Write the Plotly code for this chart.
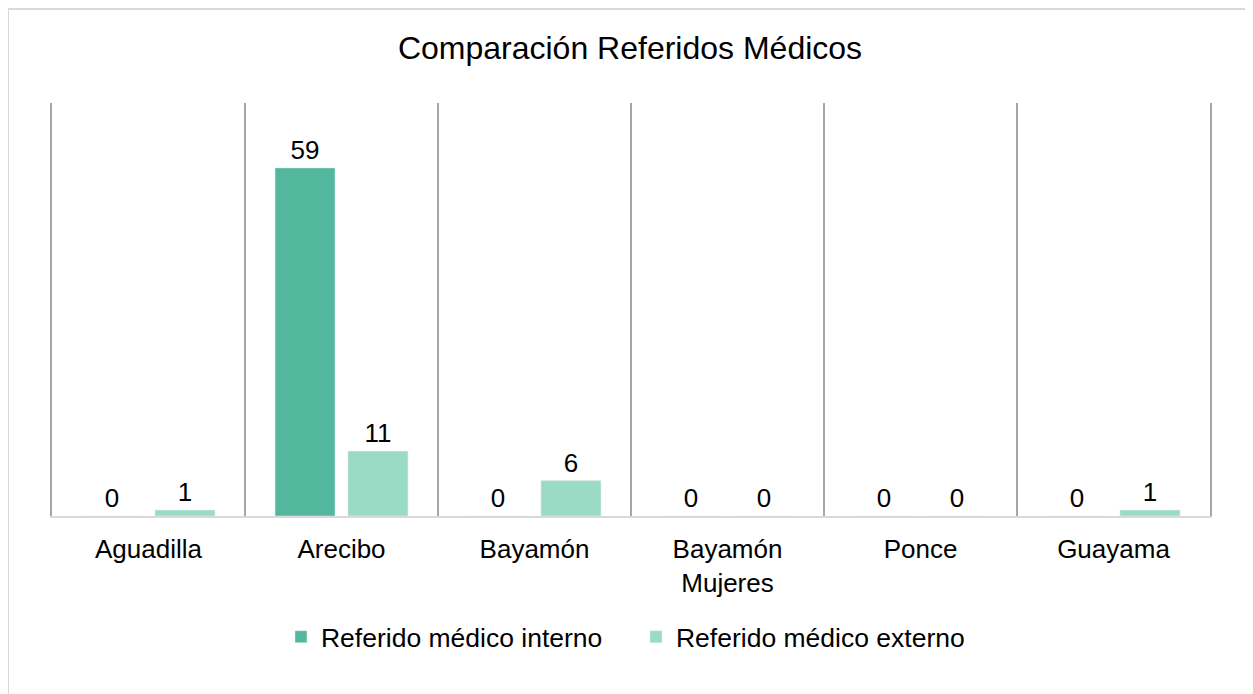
import plotly.graph_objects as go

categories = ["Aguadilla", "Arecibo", "Bayamón", "Bayamón<br>Mujeres", "Ponce", "Guayama"]
interno = [0, 59, 0, 0, 0, 0]
externo = [1, 11, 6, 0, 0, 1]

FONT = "Liberation Sans, Arial, sans-serif"

fig = go.Figure()
fig.add_trace(go.Bar(
    name="Referido médico interno", x=categories, y=interno,
    marker_color="#52B79D", text=interno, textposition="outside",
    textfont=dict(size=26, color="#000000", family=FONT), cliponaxis=False,
))
fig.add_trace(go.Bar(
    name="Referido médico externo", x=categories, y=externo,
    marker_color="#99DBC5", text=externo, textposition="outside",
    textfont=dict(size=26, color="#000000", family=FONT), cliponaxis=False,
))

# body margin of 8px offsets the figure in the page
fig.update_layout(
    width=1253, height=694,
    margin=dict(l=44, r=51, t=95, b=186),
    paper_bgcolor="white", plot_bgcolor="white",
    barmode="group", bargap=0.244, bargroupgap=0.178,
    font=dict(family=FONT, size=26, color="#000000"),
    title=dict(text="Comparación Referidos Médicos", x=(630 - 8) / 1253, xanchor="center",
               y=1 - 40 / 694, yanchor="middle",
               font=dict(size=32, family=FONT, color="#000000")),
    legend=dict(orientation="h", x=0.5043, xanchor="center", y=-0.293, yanchor="middle",
                font=dict(size=26.5, family=FONT), entrywidth=310),
    xaxis=dict(tickson="boundaries", showgrid=True, gridcolor="#A6A6A6", gridwidth=1.5,
               showline=True, linecolor="#D9D9D9", linewidth=2, ticks="",
               ticklabelstandoff=9,
               tickfont=dict(size=26, family=FONT)),
    yaxis=dict(range=[0, 70], showgrid=False, showticklabels=False, zeroline=False,
               showline=True, mirror=True, linecolor="#A6A6A6", linewidth=1.5),
    shapes=[dict(type="rect", xref="paper", yref="paper",
                 x0=(8 - 52) / 1158, x1=1.2, y0=-0.6, y1=(516 - 9) / 413,
                 line=dict(color="#D9D9D9", width=2), fillcolor="rgba(0,0,0,0)",
                 layer="below")],
)

fig.write_html("out.html")
